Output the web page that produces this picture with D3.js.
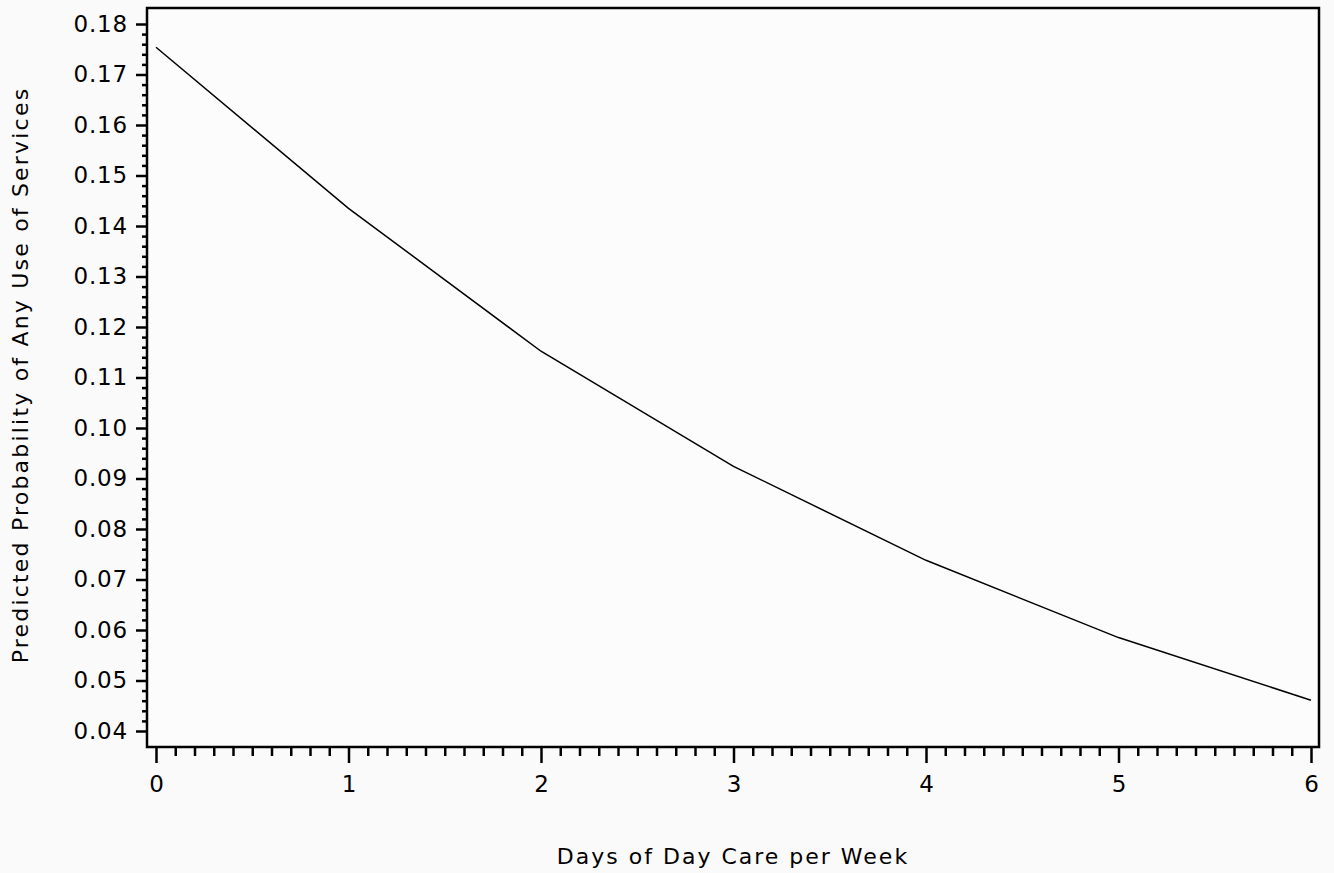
<!DOCTYPE html>
<html>
<head>
<meta charset="utf-8">
<script src="https://cdn.jsdelivr.net/npm/d3@7"></script>
<style>
  html, body { margin: 0; padding: 0; background: #fafafa; }
  svg { display: block; }
  text { font-family: "DejaVu Sans", "Liberation Sans", sans-serif; fill: #000; }
</style>
</head>
<body>
<svg id="chart" width="1334" height="873"></svg>
<script>
// ---- data ----
const daysPerWeek = [0, 1, 2, 3, 4, 5, 6];
const predictedProb = [0.1754, 0.1435, 0.1152, 0.0924, 0.0738, 0.0585, 0.0461];
const xTickValues = [0, 1, 2, 3, 4, 5, 6];
const yTickValues = [0.04, 0.05, 0.06, 0.07, 0.08, 0.09, 0.10, 0.11, 0.12, 0.13, 0.14, 0.15, 0.16, 0.17, 0.18];
const yTickLabels = ["0.04","0.05","0.06","0.07","0.08","0.09","0.10","0.11","0.12","0.13","0.14","0.15","0.16","0.17","0.18"];
const xTitle = "Days of Day Care per Week";
const yTitle = "Predicted Probability of Any Use of Services";

// ---- layout ----
const frame = { left: 147, top: 8, right: 1319, bottom: 747 };
const svg = d3.select("#chart");

const x = d3.scaleLinear().domain([0, 6]).range([156, 1311]);
const y = d3.scaleLinear().domain([0.04, 0.18]).range([731, 24]);

// plot area background
svg.append("rect")
  .attr("x", frame.left).attr("y", frame.top)
  .attr("width", frame.right - frame.left).attr("height", frame.bottom - frame.top)
  .attr("fill", "#fcfcfc");

// frame
svg.append("rect")
  .attr("x", frame.left).attr("y", frame.top)
  .attr("width", frame.right - frame.left).attr("height", frame.bottom - frame.top)
  .attr("fill", "none").attr("stroke", "#000").attr("stroke-width", 2.5);

// minor ticks x
const xMinor = d3.range(0, 61).map(i => i / 10).filter(v => Math.abs(v - Math.round(v)) > 1e-6);
const xMinorAxis = d3.axisBottom(x).tickValues(xMinor).tickSize(9).tickFormat("");
const gxm = svg.append("g").attr("transform", `translate(0,${frame.bottom})`).call(xMinorAxis);
gxm.select(".domain").remove();
gxm.selectAll("line").attr("stroke-width", 2.5);

const xAxis = d3.axisBottom(x).tickValues(xTickValues).tickSize(16).tickPadding(13).tickFormat(d3.format("d"));
const gx = svg.append("g").attr("transform", `translate(0,${frame.bottom})`).call(xAxis);
gx.select(".domain").remove();
gx.selectAll("line").attr("stroke-width", 2.5);
gx.selectAll("text").attr("font-size", 23).attr("dy", "0.71em").attr("fill", "#000")
  .style("font-family", "DejaVu Sans");

// minor ticks y
const yMinor = d3.range(40, 181).map(i => i / 1000).filter(v => Math.abs(v * 100 - Math.round(v * 100)) > 1e-6 && (Math.round(v*1000) % 2 === 0));
const yMinorAxis = d3.axisLeft(y).tickValues(yMinor).tickSize(5).tickFormat("");
const gym = svg.append("g").attr("transform", `translate(${frame.left},0)`).call(yMinorAxis);
gym.select(".domain").remove();
gym.selectAll("line").attr("stroke-width", 2.5);

const yAxis = d3.axisLeft(y).tickValues(yTickValues).tickSize(11).tickPadding(8)
  .tickFormat((d, i) => yTickLabels[i]);
const gy = svg.append("g").attr("transform", `translate(${frame.left},0)`).call(yAxis);
gy.select(".domain").remove();
gy.selectAll("line").attr("stroke-width", 2.5);
gy.selectAll("text").attr("font-size", 23).attr("fill", "#000")
  .style("font-family", "DejaVu Sans").attr("letter-spacing", 0.8);

// line
const line = d3.line().x((d, i) => x(daysPerWeek[i])).y(d => y(d));
svg.append("path").datum(predictedProb)
  .attr("d", line).attr("fill", "none").attr("stroke", "#000").attr("stroke-width", 1.5);

// titles
svg.append("text").attr("x", 733).attr("y", 864).attr("text-anchor", "middle")
  .attr("font-size", 22).attr("letter-spacing", 2).text(xTitle);
svg.append("text").attr("transform", "translate(28,375) rotate(-90)").attr("text-anchor", "middle")
  .attr("font-size", 22).attr("letter-spacing", 2.2).text(yTitle);
</script>
</body>
</html>
